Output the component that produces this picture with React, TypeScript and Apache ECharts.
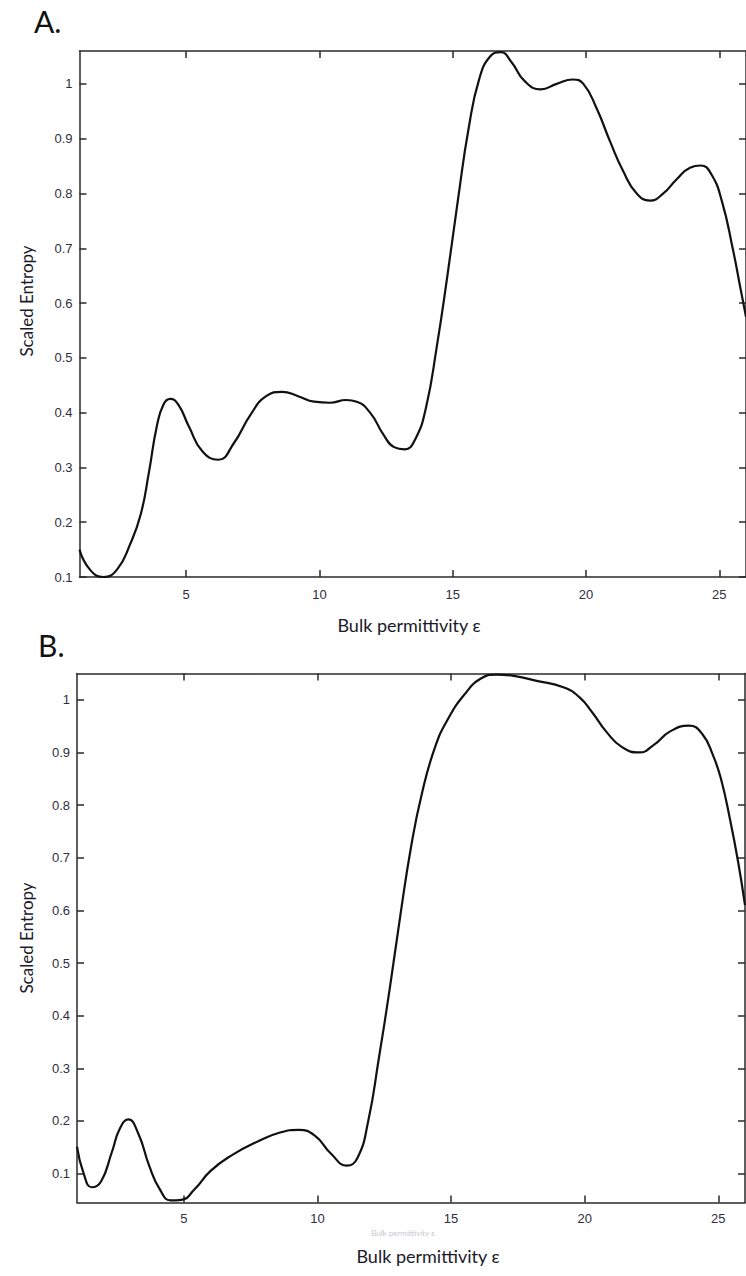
import React, { useEffect, useRef } from "react";
import * as echarts from "echarts";

// Panel A: [bulk permittivity, scaled entropy]
const seriesA: [number, number][] = [
  [1.0, 0.15], [1.4, 0.113], [1.9, 0.1], [2.4, 0.113], [2.9, 0.16], [3.3, 0.215],
  [3.6, 0.29], [3.9, 0.375], [4.15, 0.415], [4.4, 0.425], [4.7, 0.415], [5.1, 0.375],
  [5.6, 0.33], [6.2, 0.314], [6.8, 0.345], [7.4, 0.395], [8.0, 0.43], [8.6, 0.438],
  [9.2, 0.43], [9.8, 0.42], [10.4, 0.418], [11.0, 0.423], [11.4, 0.42], [11.9, 0.4],
  [12.4, 0.36], [12.8, 0.337], [13.2, 0.333], [13.6, 0.352], [14.0, 0.41], [14.4, 0.52],
  [14.8, 0.65], [15.2, 0.79], [15.6, 0.92], [16.0, 1.01], [16.4, 1.05], [16.8, 1.058],
  [17.2, 1.04], [17.7, 1.005], [18.3, 0.99], [18.9, 1.0], [19.5, 1.008], [19.9, 1.0],
  [20.4, 0.955], [20.9, 0.895], [21.4, 0.84], [21.9, 0.8], [22.4, 0.787], [22.9, 0.8],
  [23.4, 0.826], [23.9, 0.847], [24.3, 0.851], [24.7, 0.835], [25.1, 0.785], [25.5, 0.7],
  [25.8, 0.625], [26.0, 0.575],
];

// Panel B: [bulk permittivity, scaled entropy]
const seriesB: [number, number][] = [
  [1.0, 0.151], [1.25, 0.1], [1.55, 0.074], [1.9, 0.085], [2.3, 0.14], [2.6, 0.185],
  [2.92, 0.203], [3.3, 0.175], [3.7, 0.115], [4.1, 0.07], [4.5, 0.049], [4.9, 0.05],
  [5.4, 0.07], [6.0, 0.105], [6.8, 0.135], [7.8, 0.162], [8.6, 0.178], [9.3, 0.183],
  [9.9, 0.172], [10.5, 0.138], [11.1, 0.115], [11.5, 0.13], [11.9, 0.2], [12.3, 0.32],
  [12.7, 0.45], [13.1, 0.59], [13.5, 0.72], [13.9, 0.82], [14.4, 0.91], [14.9, 0.965],
  [15.5, 1.01], [16.1, 1.04], [16.7, 1.048], [17.4, 1.045], [18.2, 1.036], [19.2, 1.024],
  [19.8, 1.005], [20.3, 0.975], [20.8, 0.94], [21.4, 0.91], [22.05, 0.9], [22.6, 0.915],
  [23.2, 0.94], [23.9, 0.951], [24.4, 0.935], [24.8, 0.895], [25.1, 0.85], [25.45, 0.77],
  [25.75, 0.69], [26.0, 0.61],
];

const xTicks = [5, 10, 15, 20, 25];
const yTicks = [0.1, 0.2, 0.3, 0.4, 0.5, 0.6, 0.7, 0.8, 0.9, 1];
const panelLabels = ["A.", "B."];
const xTitle = "Bulk permittivity ε";
const yTitle = "Scaled Entropy";

const frameColor = "#2a2a2a";
const labelFont = "Liberation Sans";
const titleFont = "Lato";

function fmt(v: number) {
  return String(Math.round(v * 10) / 10);
}

export default function App() {
  const ref = useRef<HTMLDivElement>(null);
  useEffect(() => {
    if (!ref.current) return;
    const chart = echarts.init(ref.current, null, { renderer: "svg" });

    const axisLine = { show: true, onZero: false, lineStyle: { color: frameColor, width: 1.5 } };
    const mkX = (gridIndex: number, position: "bottom" | "top", showLabel: boolean, margin: number) => ({
      type: "value",
      gridIndex,
      position,
      min: 1,
      max: 26,
      axisLine,
      splitLine: { show: false },
      axisTick: { show: true, inside: true, length: 7, customValues: xTicks, lineStyle: { color: frameColor, width: 1.5 } },
      axisLabel: {
        show: showLabel,
        customValues: xTicks,
        margin,
        color: "#2e2e3e",
        fontFamily: labelFont,
        fontSize: 13,
        formatter: (v: number) => String(v),
      },
    });
    const mkY = (gridIndex: number, position: "left" | "right", showLabel: boolean, min: number, max: number) => ({
      type: "value",
      gridIndex,
      position,
      min,
      max,
      axisLine,
      splitLine: { show: false },
      axisTick: { show: true, inside: true, length: 7, customValues: yTicks, lineStyle: { color: frameColor, width: 1.5 } },
      axisLabel: {
        show: showLabel,
        customValues: yTicks,
        margin: 7,
        color: "#2e2e3e",
        fontFamily: labelFont,
        fontSize: 13,
        formatter: (v: number) => fmt(v),
      },
    });

    chart.setOption({
      animation: false,
      backgroundColor: "#ffffff",
      grid: [
        { left: 79.5, top: 51, width: 670.5, height: 526, containLabel: false },
        { left: 77, top: 673.5, width: 668, height: 529, containLabel: false },
      ],
      xAxis: [
        mkX(0, "bottom", true, 11),
        mkX(0, "top", false, 8),
        mkX(1, "bottom", true, 9),
        mkX(1, "top", false, 8),
      ],
      yAxis: [
        mkY(0, "left", true, 0.1, 1.06),
        mkY(0, "right", false, 0.1, 1.06),
        mkY(1, "left", true, 0.045, 1.05),
        mkY(1, "right", false, 0.045, 1.05),
      ],
      series: [
        {
          type: "line",
          xAxisIndex: 0,
          yAxisIndex: 0,
          data: seriesA,
          smooth: 0.5,
          showSymbol: false,
          lineStyle: { color: "#111", width: 2.2 },
          clip: true,
        },
        {
          type: "line",
          xAxisIndex: 2,
          yAxisIndex: 2,
          data: seriesB,
          smooth: 0.5,
          showSymbol: false,
          lineStyle: { color: "#111", width: 2.2 },
          clip: true,
        },
      ],
      graphic: [
        { type: "text", left: 34, top: 6, style: { text: panelLabels[0], font: `30px ${titleFont}`, fill: "#111" } },
        { type: "text", left: 38, top: 630, style: { text: panelLabels[1], font: `30px ${titleFont}`, fill: "#111" } },
        {
          type: "text", x: 409, y: 625,
          style: { text: xTitle, font: `18px ${titleFont}`, fill: "#1a1a2a", align: "center", verticalAlign: "middle" },
        },
        {
          type: "text", x: 428, y: 1256,
          style: { text: xTitle, font: `18px ${titleFont}`, fill: "#1a1a2a", align: "center", verticalAlign: "middle" },
        },
        {
          type: "text", x: 403, y: 1233,
          style: { text: xTitle, font: `8px ${titleFont}`, fill: "#c8c8d0", align: "center", verticalAlign: "middle" },
        },
        {
          type: "text", x: 26, y: 301, rotation: Math.PI / 2,
          style: { text: yTitle, font: `17px ${titleFont}`, fill: "#1a1a2a", align: "center", verticalAlign: "middle" },
        },
        {
          type: "text", x: 26, y: 938, rotation: Math.PI / 2,
          style: { text: yTitle, font: `17px ${titleFont}`, fill: "#1a1a2a", align: "center", verticalAlign: "middle" },
        },
      ],
    });
    return () => chart.dispose();
  }, []);

  return (
    <div
      ref={ref}
      style={{ position: "fixed", left: 0, top: 0, width: 746, height: 1276, background: "#fff" }}
    />
  );
}
